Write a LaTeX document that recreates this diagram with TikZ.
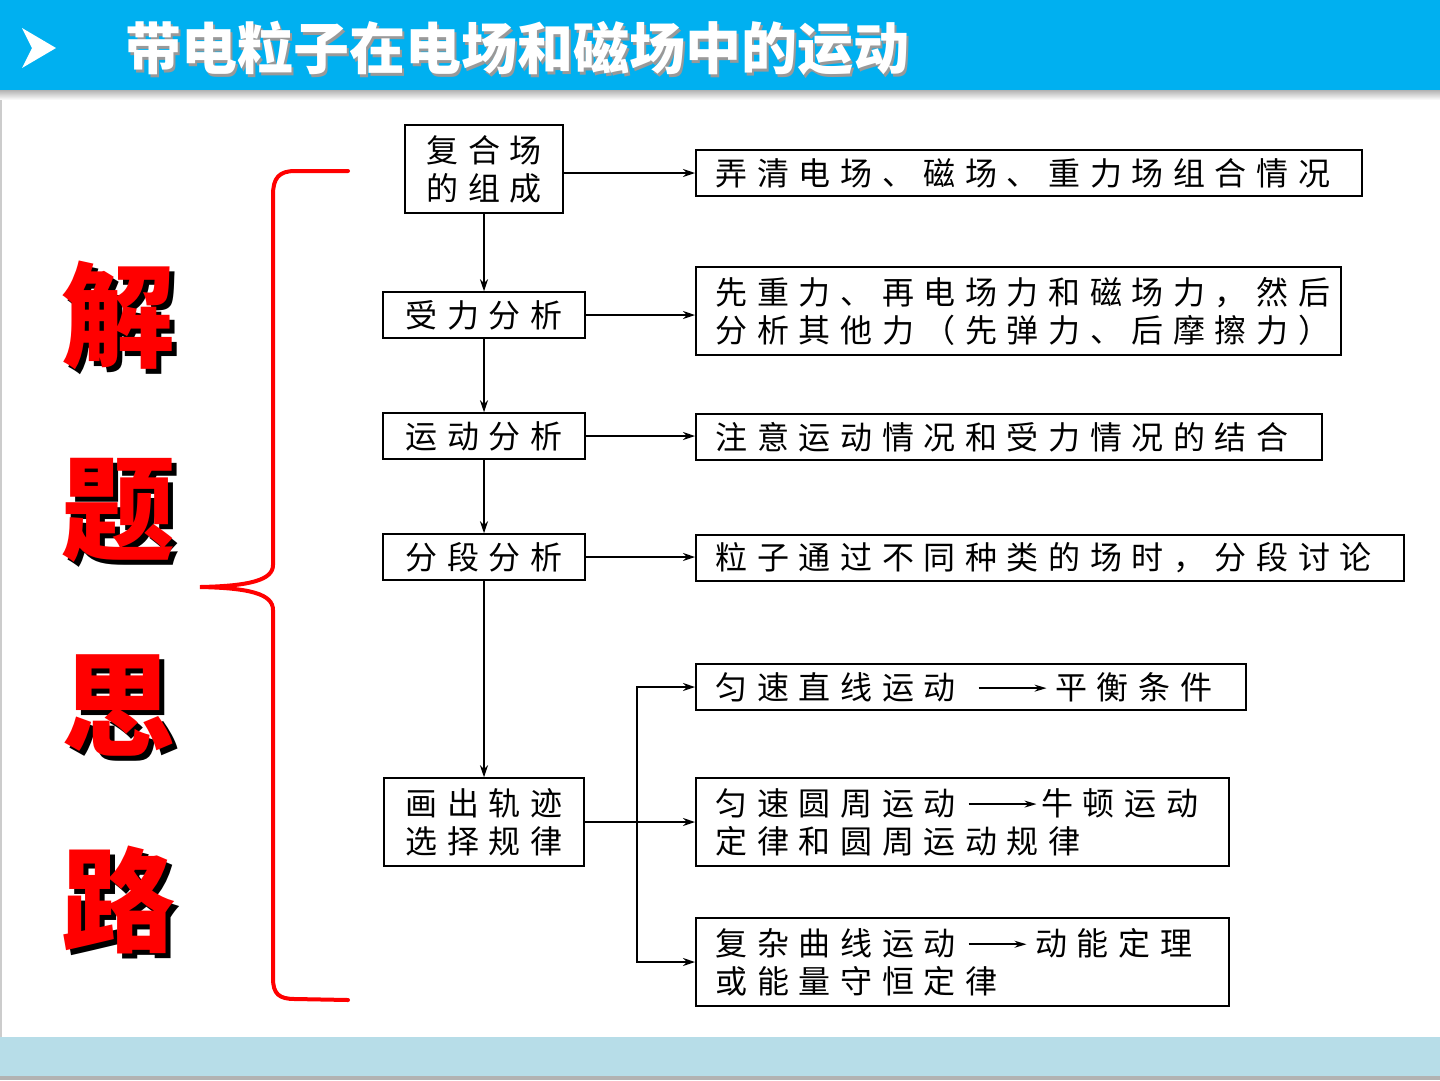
\documentclass[tikz,border=0pt]{standalone}
\usepackage{fontspec}
\newfontfamily\kaiti[LetterSpace=30]{Noto Sans CJK SC}
\newfontfamily\heiti{Noto Sans CJK SC}
\usetikzlibrary{arrows.meta}

\definecolor{bandblue}{RGB}{0,176,240}
\definecolor{footblue}{RGB}{183,221,232}
\definecolor{bracered}{RGB}{255,0,0}

\newcommand{\textarrow}[1]{\tikz[baseline=0pt]\draw[line width=1.5pt,-{Stealth[length=12pt,width=7pt]}] (0pt,11pt) -- (#1,11pt);}

\tikzset{
  lbox/.style={draw, line width=1.5pt, align=center, inner xsep=0pt, inner ysep=0pt,
    font=\kaiti\fontsize{32}{38}\selectfont},
  rbox/.style={draw, line width=1.5pt, anchor=west, align=left, inner xsep=20pt, inner ysep=0pt,
    minimum height=46pt, font=\kaiti\fontsize{32}{38}\selectfont},
  arr/.style={line width=1.5pt, -{Stealth[length=12pt,width=8pt]}},
  bigch/.style={font=\heiti\bfseries\fontsize{114}{114}\selectfont, inner sep=0pt},
}

\begin{document}
\begin{tikzpicture}[x=1pt,y=-1pt]
    \useasboundingbox (0,0) rectangle (1440,1080);

    % Title band
    \fill[bandblue] (0,0) rectangle (1440,90);
    \shade[top color=gray!60, bottom color=white] (0,90) rectangle (1440,100);
    \fill[white] (22,28) -- (56,48) -- (22,68) -- (32,48) -- cycle;
    \node[anchor=west, text=black!40, font=\heiti\bfseries\fontsize{56}{60}\selectfont] (titleshadow) at (124,51) {带电粒子在电场和磁场中的运动};
    \node[anchor=west, text=white, font=\heiti\bfseries\fontsize{56}{60}\selectfont] (title) at (122,48) {带电粒子在电场和磁场中的运动};

    % Footer band and slide edge
    \fill[footblue] (0,1037) rectangle (1440,1080);
    \fill[gray!60] (0,1076) rectangle (1440,1080);
    \draw[gray!40, line width=2pt] (1,100) -- (1,1037);

    % Big red characters
    \foreach \ch/\yy in {解/315, 题/510, 思/705, 路/900} {
        \node[bigch, text=black] (sh\yy) at (123,\yy+5) {\ch};
        \node[bigch, text=bracered] (ch\yy) at (118,\yy) {\ch};
    }

    % Brace
    \draw[bracered, line width=4pt, line cap=round]
        (348,171) -- (295,171) .. controls (279,171) and (273,178) .. (273,195)
        -- (273,565) .. controls (273,580) and (250,586) .. (200,587)
        .. controls (250,588) and (273,594) .. (273,610)
        -- (273,978) .. controls (273,994) and (279,999) .. (295,999) -- (348,1000);

    % Left column
    \node[lbox, text width=158pt, minimum height=88pt] (b1) at (484,169) {复合场\\的组成};
    \node[lbox, text width=202pt, minimum height=46pt] (b2) at (484,315) {受力分析};
    \node[lbox, text width=202pt, minimum height=46pt] (b3) at (484,436) {运动分析};
    \node[lbox, text width=202pt, minimum height=46pt] (b4) at (484,557) {分段分析};
    \node[lbox, text width=200pt, minimum height=88pt] (b5) at (484,822) {画出轨迹\\选择规律};

    % Right column
    \node[rbox, text width=626pt] (r1) at (695,173) {弄清电场、磁场、重力场组合情况};
    \node[rbox, text width=605pt, minimum height=88pt] (r2) at (695,311) {先重力、再电场力和磁场力，然后\\分析其他力（先弹力、后摩擦力）};
    \node[rbox, text width=586pt] (r3) at (695,437) {注意运动情况和受力情况的结合};
    \node[rbox, text width=668pt] (r4) at (695,558) {粒子通过不同种类的场时，分段讨论};
    \node[rbox, text width=510pt] (r5) at (695,687) {匀速直线运动\hspace{22pt}\textarrow{68pt}\hspace{8pt}平衡条件};
    \node[rbox, text width=493pt, minimum height=88pt] (r6) at (695,822) {匀速圆周运动\hspace{12pt}\textarrow{68pt}\hspace{4pt}牛顿运动\\定律和圆周运动规律};
    \node[rbox, text width=493pt, minimum height=88pt] (r7) at (695,962) {复杂曲线运动\hspace{12pt}\textarrow{58pt}\hspace{8pt}动能定理\\或能量守恒定律};

    % Connectors
    \draw[arr] (b1) -- (b2);
    \draw[arr] (b2) -- (b3);
    \draw[arr] (b3) -- (b4);
    \draw[arr] (b4) -- (b5);
    \draw[arr] (b1.east |- r1.west) -- (r1.west);
    \draw[arr] (b2.east) -- (b2.east -| r2.west);
    \draw[arr] (b3.east) -- (b3.east -| r3.west);
    \draw[arr] (b4.east) -- (b4.east -| r4.west);
    \coordinate (fork) at (637,822);
    \draw[arr] (b5.east) -- (r6.west);
    \draw[arr] (fork) |- (r5.west);
    \draw[arr] (fork) |- (r7.west);
\end{tikzpicture}
\end{document}
